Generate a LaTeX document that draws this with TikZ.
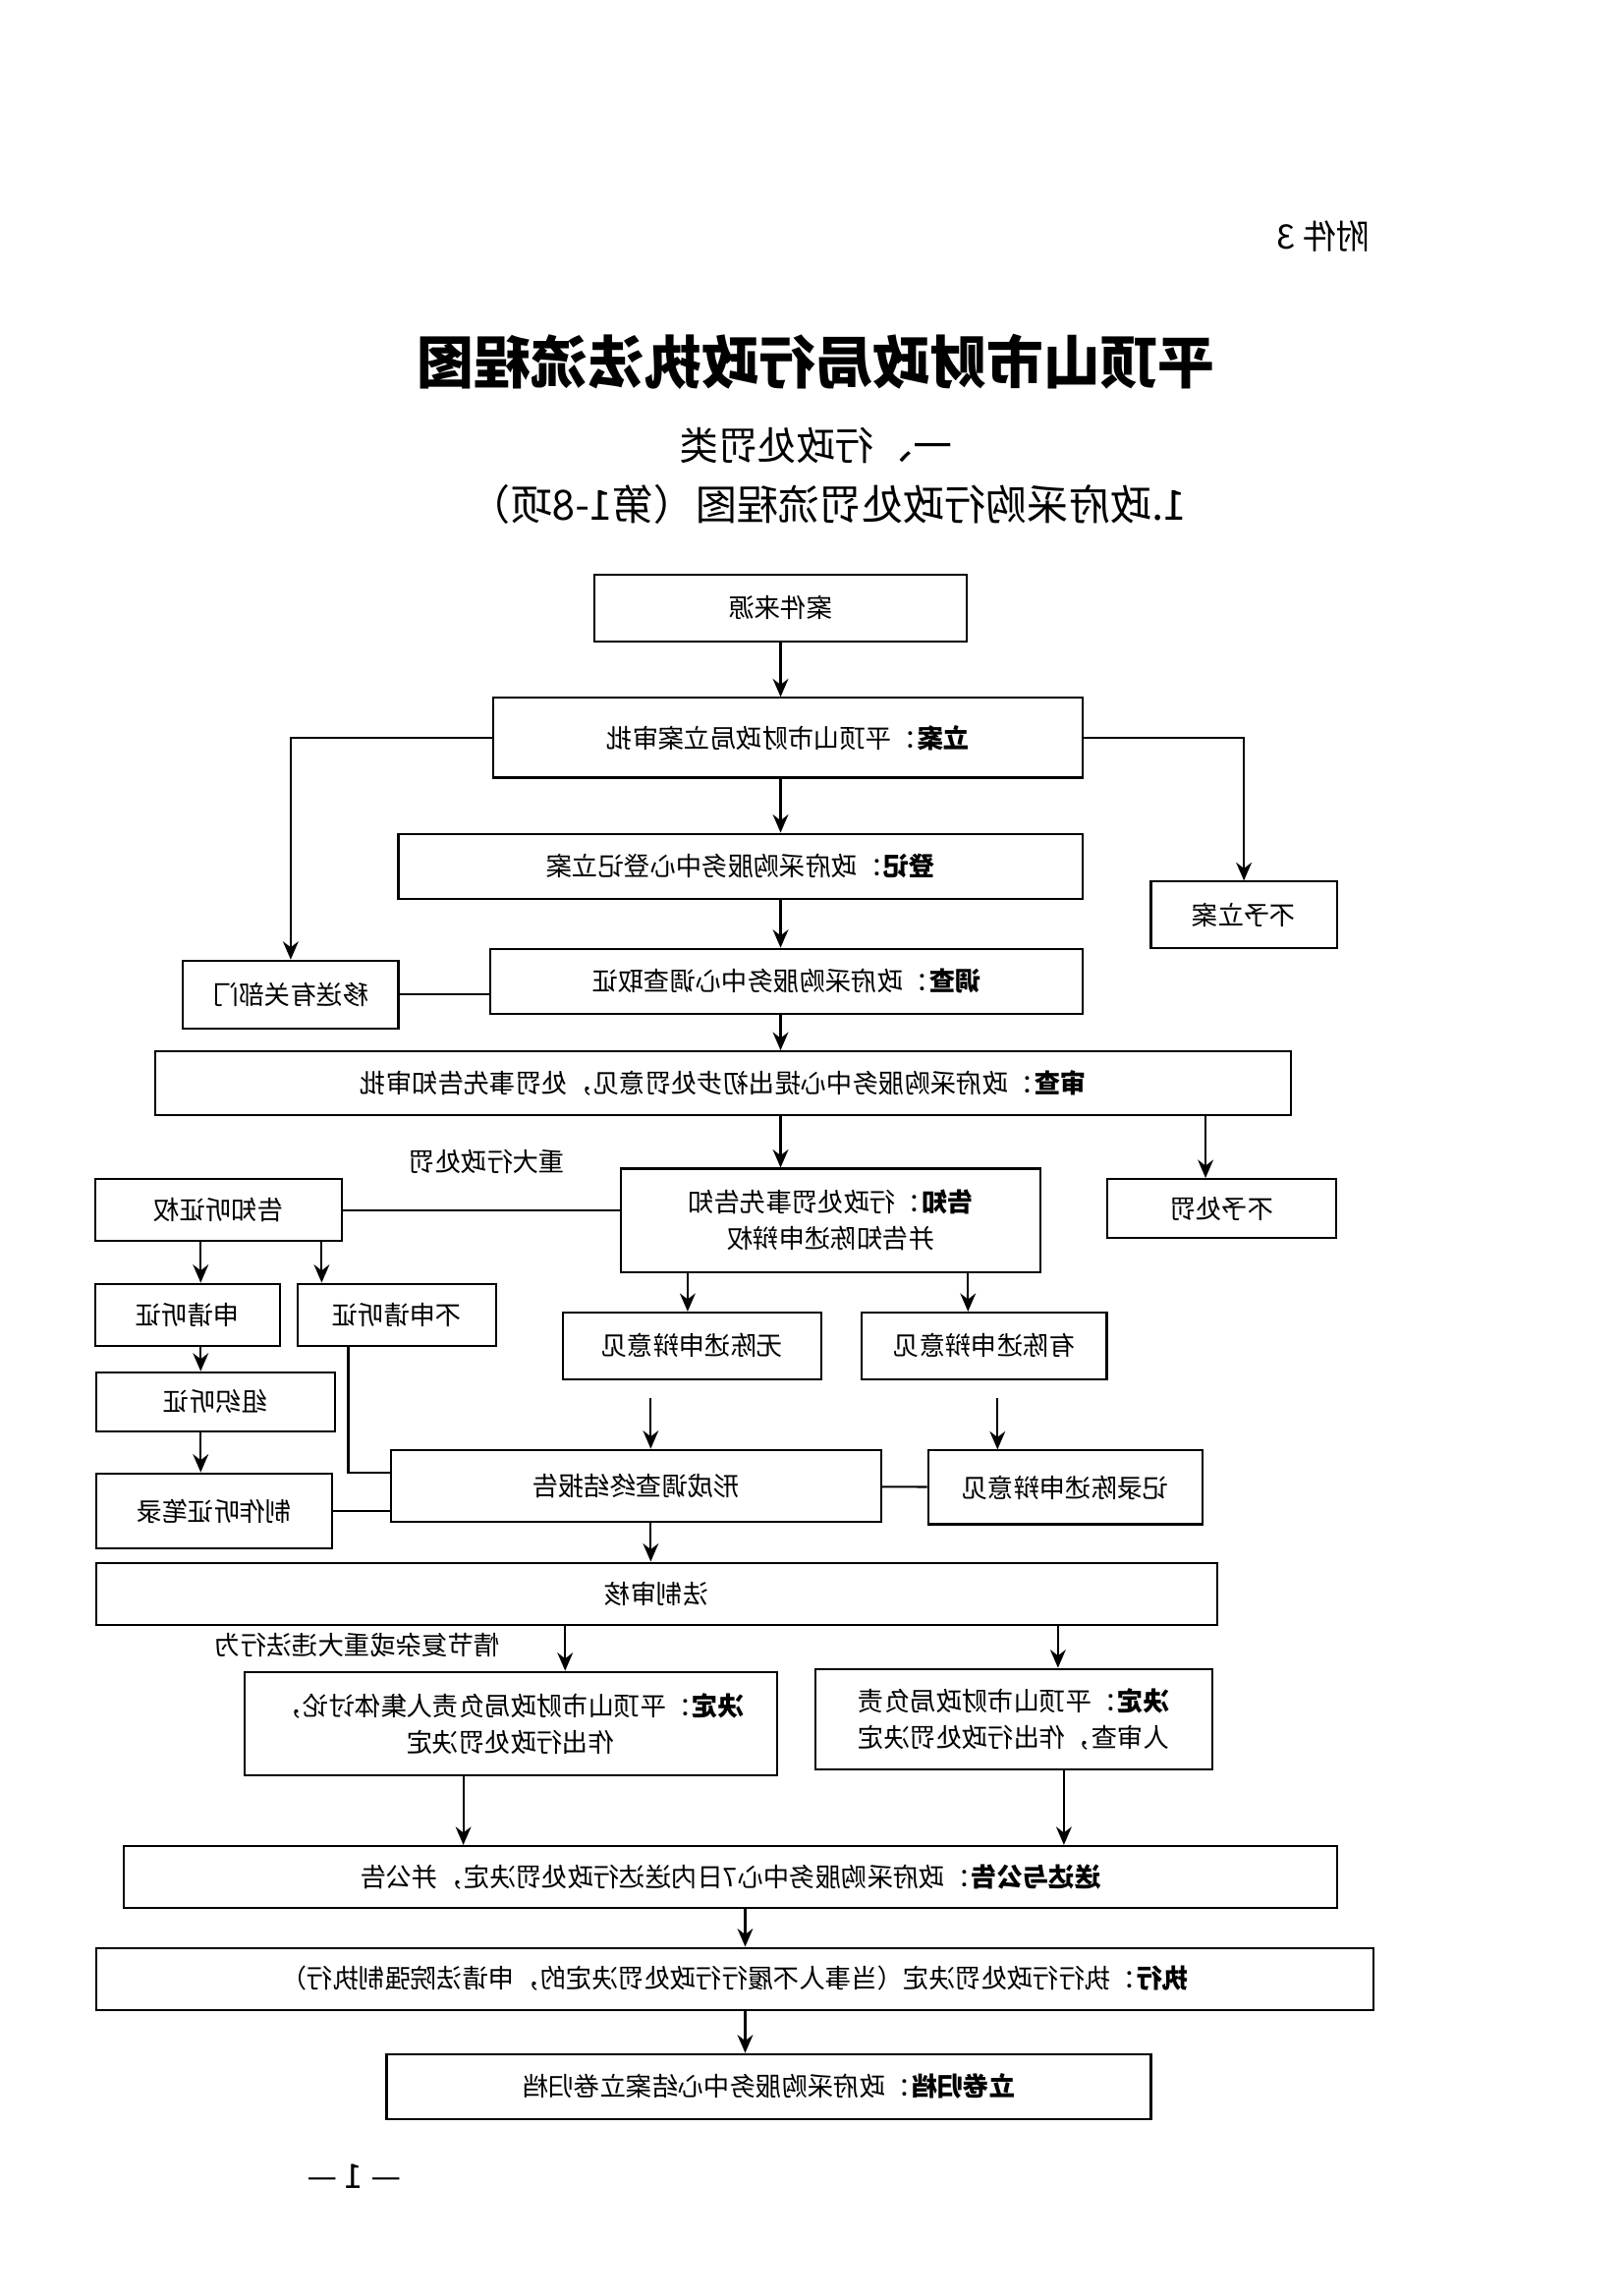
\documentclass[tikz,border=0pt]{standalone}
\usepackage{fontspec}
\setmainfont{Noto Sans CJK SC}
\usetikzlibrary{arrows.meta, positioning, calc}
\tikzset{
    box/.style={rectangle, draw, thick, xscale=-1, align=center, inner sep=2pt, font=\fontsize{10}{14}\selectfont},
    lbl/.style={xscale=-1, font=\fontsize{10}{14}\selectfont},
    arrow/.style={thick, -{Stealth[length=7pt,width=6pt]}},
    line/.style={thick}
}
\begin{document}
\begin{tikzpicture}[x=0.02cm, y=-0.02cm]
    \useasboundingbox (0,0) rectangle (1100,1556);

    % Headings
    \node [lbl, font=\fontsize{13}{16}\selectfont] (att) at (897,160) {附件 3};
    \node [lbl, font=\fontsize{22}{26}\selectfont\bfseries] (ttl) at (553,245) {平顶山市财政局行政执法流程图};
    \node [lbl, font=\fontsize{15}{18}\selectfont] (sub) at (553,302) {一、行政处罚类};
    \node [lbl, font=\fontsize{16}{18}\selectfont] (sub2) at (561,342) {1.政府采购行政处罚流程图（第1-8项）};

    % Nodes
    \node [box, minimum width=252*0.02cm, minimum height=45*0.02cm] (ly) at (529,412) {案件来源};
    \node [box, minimum width=399*0.02cm, minimum height=54*0.02cm] (la) at (534,500) {\textbf{立案}：平顶山市财政局立案审批};
    \node [box, minimum width=464*0.02cm, minimum height=44*0.02cm] (dj) at (502,587) {\textbf{登记}：政府采购服务中心登记立案};
    \node [box, minimum width=126*0.02cm, minimum height=45*0.02cm] (bl) at (843,620) {不予立案};
    \node [box, minimum width=401*0.02cm, minimum height=44*0.02cm] (dc) at (533,665) {\textbf{调查}：政府采购服务中心调查取证};
    \node [box, minimum width=146*0.02cm, minimum height=46*0.02cm] (ys) at (197,674) {移送有关部门};
    \node [box, minimum width=770*0.02cm, minimum height=43*0.02cm] (sc) at (490,734) {\textbf{审查}：政府采购服务中心提出初步处罚意见，处罚事先告知审批};
    \node [lbl] (zd) at (330,787) {重大行政处罚};
    \node [box, minimum width=167*0.02cm, minimum height=42*0.02cm] (gt) at (148,820) {告知听证权};
    \node [box, minimum width=284*0.02cm, minimum height=70*0.02cm] (gz) at (563,827) {\textbf{告知}：行政处罚事先告知\\并告知陈述申辩权};
    \node [box, minimum width=155*0.02cm, minimum height=40*0.02cm] (bz) at (828,819) {不予处罚};
    \node [box, minimum width=125*0.02cm, minimum height=42*0.02cm] (sq) at (127,891) {申请听证};
    \node [box, minimum width=135*0.02cm, minimum height=42*0.02cm] (bs) at (269,891) {不申请听证};
    \node [box, minimum width=175*0.02cm, minimum height=45*0.02cm] (wu) at (469,912) {无陈述申辩意见};
    \node [box, minimum width=166*0.02cm, minimum height=45*0.02cm] (you) at (667,912) {有陈述申辩意见};
    \node [box, minimum width=162*0.02cm, minimum height=40*0.02cm] (zz) at (146,950) {组织听证};
    \node [box, minimum width=160*0.02cm, minimum height=51*0.02cm] (bl2) at (145,1024) {制作听证笔录};
    \node [box, minimum width=332*0.02cm, minimum height=49*0.02cm] (xc) at (431,1007) {形成调查终结报告};
    \node [box, minimum width=186*0.02cm, minimum height=50*0.02cm] (jl) at (722,1008) {记录陈述申辩意见};
    \node [box, minimum width=760*0.02cm, minimum height=42*0.02cm] (fz) at (445,1080) {法制审核};
    \node [lbl] (qj) at (242,1115) {情节复杂或重大违法行为};
    \node [box, minimum width=361*0.02cm, minimum height=70*0.02cm] (jd1) at (346,1168) {\textbf{决定}：平顶山市财政局负责人集体讨论，\\作出行政处罚决定};
    \node [box, minimum width=269*0.02cm, minimum height=68*0.02cm] (jd2) at (687,1165) {\textbf{决定}：平顶山市财政局负责\\人审查，作出行政处罚决定};
    \node [box, minimum width=822*0.02cm, minimum height=42*0.02cm] (sd) at (495,1272) {\textbf{送达与公告}：政府采购服务中心7日内送达行政处罚决定，并公告};
    \node [box, minimum width=865*0.02cm, minimum height=42*0.02cm] (zx) at (498,1341) {\textbf{执行}：执行行政处罚决定（当事人不履行行政处罚决定的，申请法院强制执行）};
    \node [box, minimum width=518*0.02cm, minimum height=44*0.02cm] (gd) at (521,1414) {\textbf{立卷归档}：政府采购服务中心结案立卷归档};
    \node [lbl, font=\fontsize{13}{16}\selectfont] (pg) at (240,1475) {— 1 —};

    % Arrows
    \draw [arrow] (ly.south -| 529,0) -- (la.north -| 529,0);
    \draw [arrow] (la.south -| 529,0) -- (dj.north -| 529,0);
    \draw [arrow] (dj.south -| 529,0) -- (dc.north -| 529,0);
    \draw [arrow] (dc.south -| 529,0) -- (sc.north -| 529,0);
    \draw [arrow] (la) -| (ys);
    \draw [arrow] (la) -| (bl);
    \draw [line] (ys) -- (dc.east |- ys);
    \draw [arrow] (sc.south -| 529,0) -- (gz.north -| 529,0);
    \draw [arrow] (sc.south -| 817,0) -- (bz.north -| 817,0);
    \draw [line] (gz.east |- gt) -- (gt);
    \draw [arrow] (gt.south -| 136,0) -- (sq.north -| 136,0);
    \draw [arrow] (gt.south -| 218,0) -- (bs.north -| 218,0);
    \draw [arrow] (gz.south -| 466,0) -- (wu.north -| 466,0);
    \draw [arrow] (gz.south -| 656,0) -- (you.north -| 656,0);
    \draw [arrow] (sq.south -| 136,0) -- (zz.north -| 136,0);
    \draw [arrow] (zz.south -| 136,0) -- (bl2.north -| 136,0);
    \draw [line] (bs.south -| 236,0) |- (xc.east |- 0,998);
    \draw [line] (bl2) -- (xc.east |- bl2);
    \draw [arrow, shorten <=7pt] (wu.south -| 441,0) -- (xc.north -| 441,0);
    \draw [arrow, shorten <=7pt] (you.south -| 676,0) -- (jl.north -| 676,0);
    \draw [line] (jl) -- (xc);
    \draw [arrow] (xc.south -| 441,0) -- (fz.north -| 441,0);
    \draw [arrow] (fz.south -| 383,0) -- (jd1.north -| 383,0);
    \draw [arrow] (fz.south -| 717,0) -- (jd2.north -| 717,0);
    \draw [arrow] (jd1.south -| 314,0) -- (sd.north -| 314,0);
    \draw [arrow] (jd2.south -| 721,0) -- (sd.north -| 721,0);
    \draw [arrow] (sd.south -| 505,0) -- (zx.north -| 505,0);
    \draw [arrow] (zx.south -| 505,0) -- (gd.north -| 505,0);

\end{tikzpicture}
\end{document}
